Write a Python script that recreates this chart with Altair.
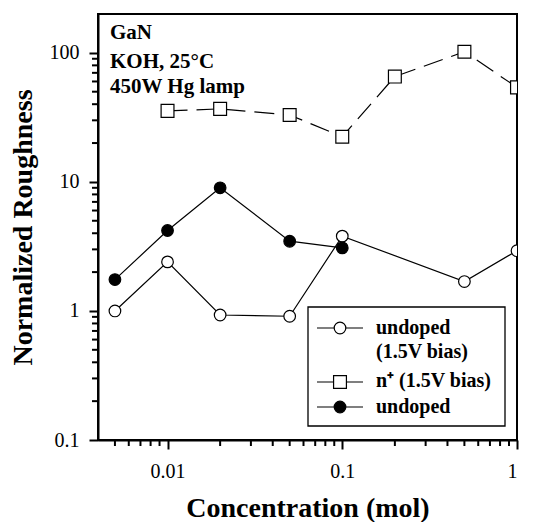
import altair as alt
import pandas as pd

# ---- data ----
conc_open = [0.005, 0.01, 0.02, 0.05, 0.1, 0.5, 1.0]
rough_open = [1.0, 2.4, 0.93, 0.91, 3.8, 1.69, 2.93]

conc_sq = [0.01, 0.02, 0.05, 0.1, 0.2, 0.5, 1.0]
rough_sq = [35.5, 36.8, 33.0, 22.4, 65.5, 102.0, 54.0]

conc_fill = [0.005, 0.01, 0.02, 0.05, 0.1]
rough_fill = [1.75, 4.2, 9.0, 3.47, 3.08]

x_major = [0.01, 0.1, 1.0]
x_minor = [0.005, 0.006, 0.007, 0.008, 0.009,
           0.02, 0.03, 0.04, 0.05, 0.06, 0.07, 0.08, 0.09,
           0.2, 0.3, 0.4, 0.5, 0.6, 0.7, 0.8, 0.9]
y_major = [0.1, 1, 10, 100]
y_minor = [0.2, 0.3, 0.4, 0.5, 0.6, 0.7, 0.8, 0.9,
           2, 3, 4, 5, 6, 7, 8, 9,
           20, 30, 40, 50, 60, 70, 80, 90]

legend_labels = ["undoped", "(1.5V bias)", "n\u207A (1.5V bias)", "undoped"]
annot_lines = ["GaN", "KOH, 25\u00B0C", "450W Hg lamp"]

FONT = "Liberation Serif"
W, H = 419, 426

df_open = pd.DataFrame({"c": conc_open, "r": rough_open})
df_sq = pd.DataFrame({"c": conc_sq, "r": rough_sq})
df_fill = pd.DataFrame({"c": conc_fill, "r": rough_fill})
df_xminor = pd.DataFrame({"c": x_minor})
df_yminor = pd.DataFrame({"r": y_minor})
one = pd.DataFrame({"k": [0]})

xscale = alt.Scale(type="log", domain=[0.004, 1], nice=False)
yscale = alt.Scale(type="log", domain=[0.1, 200], nice=False)

xaxis = alt.Axis(
    values=x_major, format="~g",
    title="Concentration (mol)", grid=False, labelOverlap=False,
    tickSize=9, tickColor="black", tickWidth=2,
    domainColor="black", domainWidth=2,
    labelFont=FONT, labelFontSize=20, labelColor="black",
    titleFont=FONT, titleFontSize=28, titleFontWeight="bold", titleColor="black",
    labelPadding=12, titlePadding=13,
)
yaxis = alt.Axis(
    values=y_major, format="~g",
    title="Normalized Roughness", grid=False, labelOverlap=False,
    tickSize=9, tickColor="black", tickWidth=2,
    domainColor="black", domainWidth=2,
    labelFont=FONT, labelFontSize=20, labelColor="black",
    titleFont=FONT, titleFontSize=28, titleFontWeight="bold", titleColor="black",
    labelPadding=10, titlePadding=12,
)

X = alt.X("c:Q", scale=xscale, axis=xaxis)
Y = alt.Y("r:Q", scale=yscale, axis=yaxis)

LW = 1.2

# minor ticks (outside the plot area, placed through the shared scales)
xminor = alt.Chart(df_xminor).mark_rule(color="black", strokeWidth=2, clip=False).encode(
    x=alt.X("c:Q", scale=xscale), y=alt.value(H), y2=alt.value(H + 6)
)
yminor = alt.Chart(df_yminor).mark_rule(color="black", strokeWidth=2, clip=False).encode(
    y=alt.Y("r:Q", scale=yscale), x=alt.value(0), x2=alt.value(-6)
)

line_open = alt.Chart(df_open).mark_line(color="black", strokeWidth=LW, clip=True).encode(x=X, y=Y)
pts_open = alt.Chart(df_open).mark_point(
    shape="circle", size=135, filled=True, fill="white", stroke="black", strokeWidth=LW, opacity=1, clip=True
).encode(x=X, y=Y)

line_sq = alt.Chart(df_sq).mark_line(color="black", strokeWidth=LW, strokeDash=[20, 9], clip=True).encode(x=X, y=Y)
pts_sq = alt.Chart(df_sq).mark_point(
    shape="square", size=165, filled=True, fill="white", stroke="black", strokeWidth=LW, opacity=1, clip=True
).encode(x=X, y=Y)

line_fill = alt.Chart(df_fill).mark_line(color="black", strokeWidth=LW, clip=True).encode(x=X, y=Y)
pts_fill = alt.Chart(df_fill).mark_point(
    shape="circle", size=135, filled=True, fill="black", stroke="black", strokeWidth=LW, opacity=1, clip=True
).encode(x=X, y=Y)

# ---- annotation (top-left) ----
annot_y = [25, 54, 79]
annot = [
    alt.Chart(one).mark_text(
        text=t, font=FONT, fontSize=21, fontWeight="bold", align="left", baseline="alphabetic", color="black"
    ).encode(x=alt.value(12), y=alt.value(yy))
    for t, yy in zip(annot_lines, annot_y)
]

# ---- legend (manual) ----
box = alt.Chart(one).mark_rect(fill="white", stroke="black", strokeWidth=1.3).encode(
    x=alt.value(210), x2=alt.value(407), y=alt.value(293), y2=alt.value(412)
)
rows_y = [314, 368, 393]
leg_items = []
leg_items.append(alt.Chart(one).mark_rule(color="black", strokeWidth=LW).encode(
    x=alt.value(219), x2=alt.value(265), y=alt.value(rows_y[0])))
leg_items.append(alt.Chart(one).mark_point(shape="circle", size=135, filled=True, fill="white",
                                           stroke="black", strokeWidth=LW, opacity=1).encode(
    x=alt.value(242), y=alt.value(rows_y[0])))
leg_items.append(alt.Chart(one).mark_rule(color="black", strokeWidth=LW, strokeDash=[19, 9]).encode(
    x=alt.value(219), x2=alt.value(265), y=alt.value(rows_y[1])))
leg_items.append(alt.Chart(one).mark_point(shape="square", size=165, filled=True, fill="white",
                                           stroke="black", strokeWidth=LW, opacity=1).encode(
    x=alt.value(242), y=alt.value(rows_y[1])))
leg_items.append(alt.Chart(one).mark_rule(color="black", strokeWidth=LW).encode(
    x=alt.value(219), x2=alt.value(265), y=alt.value(rows_y[2])))
leg_items.append(alt.Chart(one).mark_point(shape="circle", size=135, filled=True, fill="black",
                                           stroke="black", strokeWidth=LW, opacity=1).encode(
    x=alt.value(242), y=alt.value(rows_y[2])))

text_y = [320, 344, 373, 399]
for t, yy in zip(legend_labels, text_y):
    leg_items.append(alt.Chart(one).mark_text(
        text=t, font=FONT, fontSize=20, fontWeight="bold", align="left", baseline="alphabetic", color="black"
    ).encode(x=alt.value(278), y=alt.value(yy)))

chart = alt.layer(
    line_open, line_sq, line_fill, pts_open, pts_sq, pts_fill, xminor, yminor, *annot, box, *leg_items
).properties(
    width=W, height=H,
    autosize=alt.AutoSizeParams(type="none"),
    padding={"left": 90, "top": 6, "right": 8, "bottom": 82},
).configure_view(
    stroke="black", strokeWidth=2
)

chart.save("out.html", embed_options={"renderer": "svg", "actions": False})
